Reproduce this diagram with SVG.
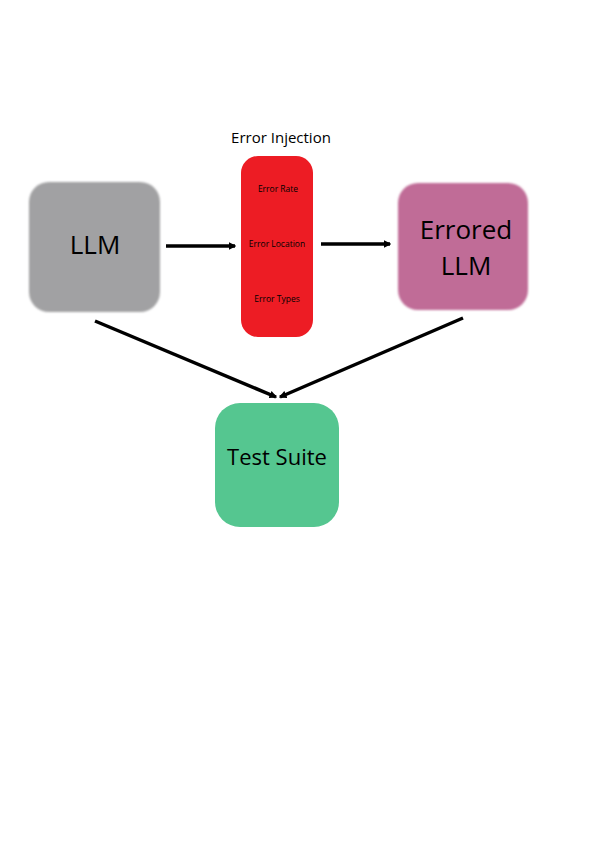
<svg xmlns="http://www.w3.org/2000/svg" width="595" height="842" viewBox="0 0 595 842">
<style>
text{font-family:"Open Sans","Noto Sans",sans-serif;fill:#000;text-anchor:middle}
.big{font-size:26px}
.small{font-size:8.5px}
.conn line{stroke:#000;stroke-width:3.5;fill:none}
</style>
<defs>
<filter id="soft" x="-10%" y="-10%" width="120%" height="120%"><feGaussianBlur stdDeviation="1.3"/></filter>
<marker id="ah" viewBox="0 0 6 6" refX="5" refY="3" markerWidth="2.2" markerHeight="2.2" orient="auto" markerUnits="strokeWidth"><path d="M0,0 L6,3 L0,6 z" fill="#000"/></marker>
</defs>
<rect width="595" height="842" fill="#fff"/>
<g id="llm">
<rect x="29" y="182" width="131" height="130" rx="20" fill="#a1a1a3" filter="url(#soft)"/>
<text class="big" x="95" y="254">LLM</text>
</g>
<g id="error-injection">
<text x="281" y="143" style="font-size:15px">Error Injection</text>
<rect x="241" y="156" width="72" height="181" rx="17" fill="#ed1c24"/>
<text class="small" x="278" y="192">Error Rate</text>
<text class="small" x="277" y="247">Error Location</text>
<text class="small" x="277" y="302">Error Types</text>
</g>
<g id="errored-llm">
<rect x="398" y="183" width="130" height="127" rx="20" fill="#c06c97" filter="url(#soft)"/>
<text class="big" x="466" y="239">Errored</text>
<text class="big" x="466" y="275">LLM</text>
</g>
<g id="test-suite">
<rect x="215" y="403" width="124" height="124" rx="25" fill="#55c690"/>
<text x="277" y="465" style="font-size:22px">Test Suite</text>
</g>
<g class="conn" id="connectors">
<line x1="166" y1="246" x2="235" y2="246" marker-end="url(#ah)"/>
<line x1="321" y1="244" x2="390" y2="244" marker-end="url(#ah)"/>
<line x1="95" y1="321" x2="276" y2="397" marker-end="url(#ah)"/>
<line x1="463" y1="318" x2="280" y2="397" marker-end="url(#ah)"/>
</g>
</svg>
